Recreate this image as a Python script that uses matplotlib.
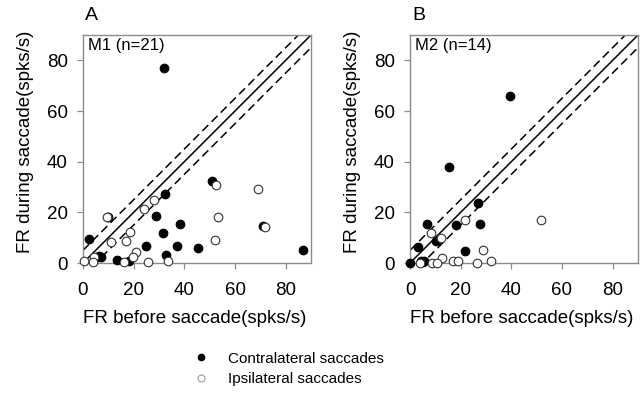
import matplotlib
matplotlib.use("Agg")
import matplotlib.pyplot as plt
from matplotlib.lines import Line2D
import numpy as np

plt.rcParams['font.family'] = ['Liberation Sans', 'DejaVu Sans']

# Firing rates (spikes/s) before vs. during saccade, per neuron
m1_contra_before = [32.0, 51.0, 32.5, 28.8, 38.4, 31.4, 71.0, 2.4, 24.8, 37.1,
                    45.5, 32.7, 87.0, 7.0, 10.0, 13.6, 18.3, 5.5, 6.3]
m1_contra_during = [77.0, 32.5, 27.2, 18.5, 15.4, 11.7, 14.7, 9.4, 6.8, 6.7,
                    6.0, 3.0, 5.0, 2.4, 18.3, 1.0, 0.9, 2.3, 2.8]
m1_ipsi_before = [52.4, 69.0, 28.0, 23.9, 9.4, 53.2, 18.4, 17.0, 11.0, 71.7,
                  52.3, 20.8, 19.6, 4.3, 0.5, 4.0, 16.2, 25.5, 33.4]
m1_ipsi_during = [30.8, 29.1, 24.7, 21.2, 18.3, 18.0, 12.3, 8.8, 8.3, 14.1,
                  9.0, 4.5, 2.3, 2.4, 0.7, 0.2, 0.2, 0.2, 0.8]

m2_contra_before = [39.5, 15.2, 26.9, 6.8, 18.2, 27.5, 10.3, 3.1, 21.6, 0.0,
                    4.5, 5.6, 5.0]
m2_contra_during = [65.9, 37.8, 23.5, 15.5, 15.0, 15.2, 8.8, 6.2, 4.6, 0.0,
                    0.8, 0.9, 0.3]
m2_ipsi_before = [51.8, 21.6, 8.2, 12.3, 28.7, 12.8, 3.8, 8.7, 10.7, 16.9,
                  18.9, 26.3, 32.1]
m2_ipsi_during = [17.0, 17.0, 12.0, 9.7, 5.1, 1.9, 0.0, 0.0, 0.0, 0.6,
                  0.6, 0.0, 0.9]

panels = [
    ("A", "M1 (n=21)", m1_contra_before, m1_contra_during, m1_ipsi_before, m1_ipsi_during),
    ("B", "M2 (n=14)", m2_contra_before, m2_contra_during, m2_ipsi_before, m2_ipsi_during),
]

ticks = [0, 20, 40, 60, 80]
band = 5.0
frame_gray = "#8c8c8c"

fig = plt.figure(figsize=(6.44, 3.93), dpi=100)
lefts = [83 / 644, 410 / 644]
bottom = (393 - 263) / 393
width = 228 / 644
height = 228 / 393

for left, (letter, tag, cb, cd, ib, idur) in zip(lefts, panels):
    ax = fig.add_axes([left, bottom, width, height])
    ax.set_xlim(0, 90)
    ax.set_ylim(0, 90)

    diag = np.array([0, 90])
    ax.plot(diag, diag, color="black", lw=1.1, zorder=2)
    ax.plot(diag, diag + band, color="black", lw=1.1, ls=(0, (5.5, 3)), zorder=2)
    ax.plot(diag, diag - band, color="black", lw=1.1, ls=(0, (5.5, 3)), zorder=2)

    ax.plot(cb, cd, ls="none", marker="o", ms=6.2, mfc="black", mec="black",
            mew=0.8, clip_on=False, zorder=3)
    ax.plot(ib, idur, ls="none", marker="o", ms=6.2, mfc="white", mec="#333333",
            mew=0.8, clip_on=False, zorder=4)

    ax.set_xticks(ticks)
    ax.set_yticks(ticks)
    for s in ax.spines.values():
        s.set_color(frame_gray)
        s.set_linewidth(1.0)
    ax.tick_params(direction="out", length=4, width=0.9, color=frame_gray,
                   labelsize=13.5)
    ax.tick_params(axis="x", pad=9.5)
    ax.tick_params(axis="y", pad=7)

    ax.set_xlabel("FR before saccade(spks/s)", fontsize=13.5)
    ax.set_ylabel("FR during saccade(spks/s)", fontsize=13.5)
    ax.xaxis.set_label_coords(0.49, -0.205)
    ax.yaxis.set_label_coords(-0.215, 0.53)

    ax.text(0.022, 0.985, tag, transform=ax.transAxes, fontsize=12,
            ha="left", va="top")
    ax.text(0.01, 1.05, letter, transform=ax.transAxes, fontsize=14,
            ha="left", va="bottom")

handles = [
    Line2D([], [], ls="none", marker="o", ms=4.5, mfc="black", mec="black"),
    Line2D([], [], ls="none", marker="o", ms=5, mfc="white", mec="#9a9a9a", mew=0.8),
]
fig.legend(handles, ["Contralateral saccades", "Ipsilateral saccades"],
           loc="center left", bbox_to_anchor=(193 / 644, 1 - 369 / 393),
           frameon=False, fontsize=11, handlelength=1.0, handletextpad=1.3,
           labelspacing=0.45, borderpad=0, borderaxespad=0)

fig.savefig("out.png", dpi=100)
